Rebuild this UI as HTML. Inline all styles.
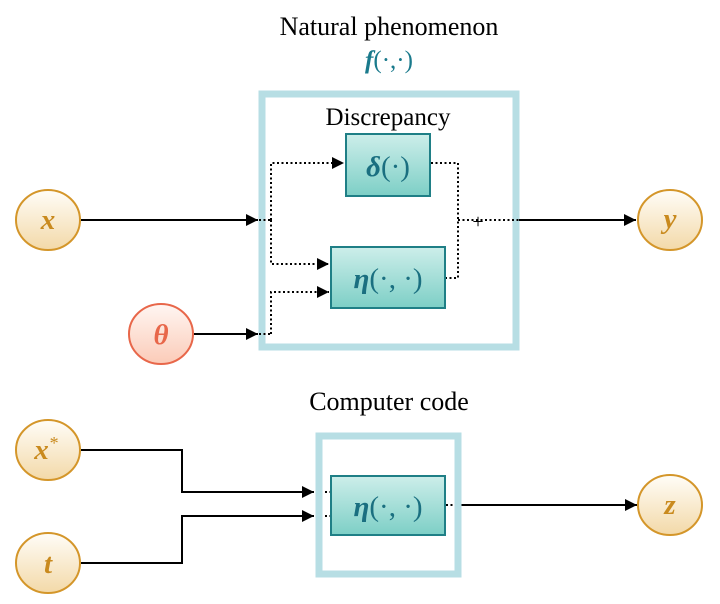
<!DOCTYPE html>
<html><head><meta charset="utf-8"><style>
html,body{margin:0;padding:0;background:#fff}
svg{display:block}
text{font-family:"Liberation Serif",serif}
</style></head><body>
<svg width="720" height="604" viewBox="0 0 720 604">
<defs>
<linearGradient id="gold" x1="0" y1="0" x2="0" y2="1"><stop offset="0" stop-color="#fffdf8"/><stop offset="1" stop-color="#f3d9a8"/></linearGradient>
<linearGradient id="red" x1="0" y1="0" x2="0" y2="1"><stop offset="0" stop-color="#fff6f2"/><stop offset="1" stop-color="#fbcbb8"/></linearGradient>
<linearGradient id="teal" x1="0" y1="0" x2="0" y2="1"><stop offset="0" stop-color="#cdeeea"/><stop offset="1" stop-color="#7dcfc6"/></linearGradient>
<marker id="ar" viewBox="0 0 10 10" refX="10" refY="5" markerWidth="16" markerHeight="12" markerUnits="userSpaceOnUse" orient="auto"><path d="M0,0 L10,5 L0,10 z" fill="#000"/></marker>
</defs>

<text x="389" y="35" font-size="26" text-anchor="middle">Natural phenomenon</text>
<text x="389" y="68" font-size="25" text-anchor="middle" fill="#1a7a8c"><tspan font-weight="bold" font-style="italic">f</tspan>(·,·)</text>

<rect x="262" y="94" width="254" height="253" fill="none" stroke="#b7dee4" stroke-width="7"/>
<text x="388" y="125" font-size="25" text-anchor="middle">Discrepancy</text>

<g fill="none" stroke="#000" stroke-width="2">
<line x1="81" y1="220" x2="258" y2="220" marker-end="url(#ar)"/>
<line x1="194" y1="334" x2="258" y2="334" marker-end="url(#ar)"/>
<line x1="519" y1="220" x2="636" y2="220" marker-end="url(#ar)"/>
<polyline points="81,450 182,450 182,492 314,492" marker-end="url(#ar)"/>
<polyline points="81,563 182,563 182,516 314,516" marker-end="url(#ar)"/>
<line x1="460" y1="505" x2="637" y2="505" marker-end="url(#ar)"/>
</g>
<g fill="none" stroke="#000" stroke-width="2" stroke-dasharray="2,2.5">
<line x1="259" y1="220" x2="271" y2="220"/>
<polyline points="271,220 271,163 344,163" marker-end="url(#ar)"/>
<polyline points="271,220 271,264 329,264" marker-end="url(#ar)"/>
<line x1="259" y1="334" x2="271" y2="334"/>
<polyline points="271,334 271,292 329,292" marker-end="url(#ar)"/>
<polyline points="431,163 458,163 458,278 446,278"/>
<line x1="458" y1="220" x2="519" y2="220"/>
<line x1="316" y1="492" x2="331" y2="492"/>
<line x1="316" y1="516" x2="331" y2="516"/>
<line x1="446" y1="505" x2="460" y2="505"/>
</g>
<text x="478" y="228" font-size="20" text-anchor="middle">+</text>

<rect x="346" y="134" width="84" height="62" fill="url(#teal)" stroke="#1f7f86" stroke-width="2"/>
<text x="388" y="176" font-size="29" text-anchor="middle" fill="#1a6f80"><tspan font-weight="bold" font-style="italic">δ</tspan>(·)</text>
<rect x="331" y="247" width="114" height="61" fill="url(#teal)" stroke="#1f7f86" stroke-width="2"/>
<text x="388" y="288" font-size="29" text-anchor="middle" fill="#1a6f80"><tspan font-weight="bold" font-style="italic">η</tspan>(·, ·)</text>

<text x="389" y="410" font-size="26" text-anchor="middle">Computer code</text>
<rect x="319" y="436" width="139" height="138" fill="none" stroke="#b7dee4" stroke-width="7"/>
<rect x="331" y="476" width="114" height="59" fill="url(#teal)" stroke="#1f7f86" stroke-width="2"/>
<text x="388" y="516" font-size="29" text-anchor="middle" fill="#1a6f80"><tspan font-weight="bold" font-style="italic">η</tspan>(·, ·)</text>

<g stroke-width="2" font-size="29" font-weight="bold" font-style="italic" text-anchor="middle">
<g><ellipse cx="48" cy="220" rx="32" ry="30" fill="url(#gold)" stroke="#d4962a"/><text x="48" y="229" fill="#c98a1e">x</text></g>
<g><ellipse cx="670" cy="220" rx="32" ry="30" fill="url(#gold)" stroke="#d4962a"/><text x="670" y="228" fill="#c98a1e">y</text></g>
<g><ellipse cx="161" cy="334" rx="32" ry="30" fill="url(#red)" stroke="#e8674a"/><text x="161" y="344" fill="#e8674a">θ</text></g>
<g><ellipse cx="48" cy="450" rx="32" ry="30" fill="url(#gold)" stroke="#d4962a"/><text x="46" y="459" fill="#c98a1e">x<tspan font-size="18" dy="-10" font-weight="normal">*</tspan></text></g>
<g><ellipse cx="48" cy="563" rx="32" ry="30" fill="url(#gold)" stroke="#d4962a"/><text x="48" y="573" fill="#c98a1e">t</text></g>
<g><ellipse cx="670" cy="505" rx="32" ry="30" fill="url(#gold)" stroke="#d4962a"/><text x="670" y="514" fill="#c98a1e">z</text></g>
</g>
</svg>
</body></html>
